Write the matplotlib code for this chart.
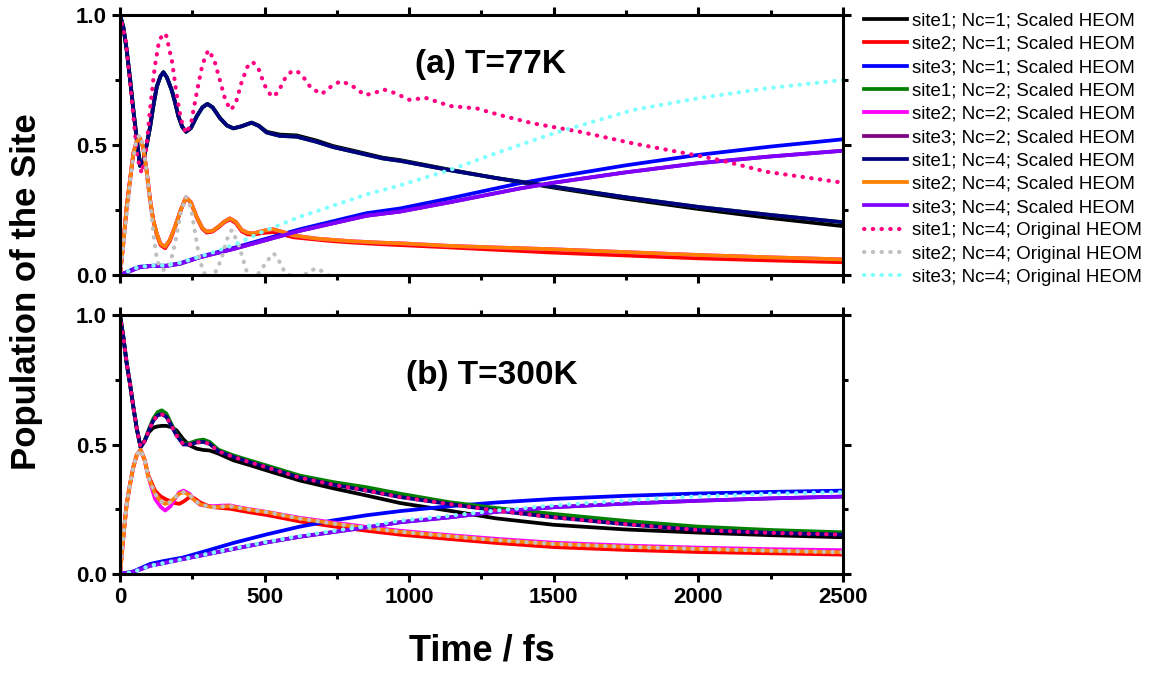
import matplotlib
matplotlib.use('Agg')
import matplotlib.pyplot as plt
from matplotlib.ticker import MultipleLocator

plt.rcParams['font.family'] = ['Liberation Sans', 'DejaVu Sans']

labels = ['site1; Nc=1; Scaled HEOM', 'site2; Nc=1; Scaled HEOM', 'site3; Nc=1; Scaled HEOM',
          'site1; Nc=2; Scaled HEOM', 'site2; Nc=2; Scaled HEOM', 'site3; Nc=2; Scaled HEOM',
          'site1; Nc=4; Scaled HEOM', 'site2; Nc=4; Scaled HEOM', 'site3; Nc=4; Scaled HEOM',
          'site1; Nc=4; Original HEOM', 'site2; Nc=4; Original HEOM', 'site3; Nc=4; Original HEOM']
colors = ['#000000', '#ff0000', '#0000ff', '#008000', '#ff00ff', '#800080',
          '#000080', '#ff8000', '#8000ff', '#ff0080', '#c0c0c0', '#80ffff']

# ---------------- (a) T=77K ----------------
# site1, scaled
t_a_s1 = [0, 12, 23, 35, 46, 58, 69, 80, 92, 104, 115, 127, 140, 150, 162, 179, 190, 202, 215, 228,
          245, 265, 285, 302, 320, 346, 370, 392, 420, 455, 480, 507, 553, 611, 680, 737, 800, 910,
          969, 1141, 1300, 1500, 1750, 2000, 2250, 2500]
a_s1_nc1 = [1.0, 0.95, 0.865, 0.75, 0.635, 0.52, 0.42, 0.44, 0.50, 0.57, 0.65, 0.724, 0.765, 0.78,
            0.76, 0.71, 0.665, 0.61, 0.57, 0.551, 0.565, 0.61, 0.645, 0.658, 0.645, 0.603, 0.575,
            0.564, 0.572, 0.586, 0.575, 0.551, 0.54, 0.537, 0.517, 0.496, 0.48, 0.451, 0.442, 0.405,
            0.373, 0.336, 0.293, 0.254, 0.219, 0.188]
a_s1_nc4 = [1.0, 0.95, 0.865, 0.75, 0.635, 0.52, 0.42, 0.44, 0.50, 0.57, 0.65, 0.724, 0.765, 0.78,
            0.76, 0.71, 0.665, 0.61, 0.57, 0.551, 0.565, 0.61, 0.645, 0.658, 0.645, 0.603, 0.575,
            0.564, 0.572, 0.586, 0.573, 0.548, 0.535, 0.532, 0.512, 0.492, 0.476, 0.448, 0.439, 0.403,
            0.373, 0.34, 0.299, 0.262, 0.231, 0.203]

# site2, scaled
t_a_s2 = [0, 12, 23, 35, 46, 58, 69, 80, 92, 104, 115, 127, 140, 156, 172, 190, 210, 228, 245, 265,
          285, 300, 320, 340, 360, 380, 400, 421, 440, 461, 495, 530, 565, 600, 680, 737, 800, 910,
          969, 1141, 1300, 1500, 1750, 2000, 2250, 2500]
a_s2_nc1 = [0, 0.13, 0.263, 0.37, 0.468, 0.515, 0.526, 0.49, 0.40, 0.288, 0.21, 0.155, 0.115, 0.103,
            0.13, 0.183, 0.25, 0.297, 0.278, 0.222, 0.177, 0.163, 0.167, 0.183, 0.202, 0.214, 0.2,
            0.168, 0.157, 0.155, 0.162, 0.165, 0.155, 0.145, 0.136, 0.13, 0.125, 0.118, 0.115, 0.106,
            0.097, 0.086, 0.075, 0.064, 0.056, 0.049]
a_s2_nc4 = [0, 0.13, 0.263, 0.37, 0.468, 0.515, 0.526, 0.49, 0.40, 0.288, 0.21, 0.16, 0.12, 0.109,
            0.135, 0.186, 0.25, 0.299, 0.28, 0.224, 0.18, 0.167, 0.17, 0.186, 0.205, 0.218, 0.205,
            0.173, 0.163, 0.16, 0.17, 0.176, 0.165, 0.152, 0.14, 0.135, 0.13, 0.124, 0.122, 0.112,
            0.106, 0.099, 0.088, 0.077, 0.068, 0.06]

# site3, scaled
t_a_s3 = [0, 25, 50, 69, 115, 161, 207, 276, 392, 507, 622, 853, 969, 1141, 1383, 1500, 1750, 2000,
          2250, 2500]
a_s3_nc1 = [0, 0.012, 0.025, 0.032, 0.036, 0.036, 0.045, 0.07, 0.104, 0.14, 0.176, 0.238, 0.256,
            0.295, 0.353, 0.376, 0.422, 0.462, 0.494, 0.522]
a_s3_nc4 = [0, 0.01, 0.022, 0.03, 0.035, 0.035, 0.043, 0.068, 0.1, 0.135, 0.17, 0.228, 0.244, 0.28,
            0.333, 0.355, 0.395, 0.43, 0.456, 0.478]

# original HEOM, Nc=4
t_a_o1 = [0, 20, 40, 60, 75, 90, 105, 120, 135, 150, 160, 180, 195, 210, 228, 245, 265, 285, 305,
          325, 345, 365, 383, 400, 420, 440, 459, 480, 500, 524, 545, 570, 590, 611, 635, 660, 697,
          730, 763, 800, 847, 880, 911, 950, 1003, 1055, 1141, 1233, 1314, 1429, 1590, 1775, 1971,
          2075, 2236, 2500]
a_o1 = [1.0, 0.9, 0.68, 0.45, 0.391, 0.48, 0.65, 0.80, 0.9, 0.93, 0.92, 0.82, 0.70, 0.6, 0.545,
        0.58, 0.7, 0.81, 0.865, 0.83, 0.75, 0.67, 0.635, 0.66, 0.74, 0.80, 0.82, 0.79, 0.73, 0.686,
        0.70, 0.755, 0.78, 0.786, 0.76, 0.72, 0.696, 0.725, 0.746, 0.73, 0.692, 0.70, 0.714, 0.70,
        0.673, 0.682, 0.65, 0.641, 0.615, 0.583, 0.551, 0.506, 0.465, 0.442, 0.397, 0.355]
t_a_o2 = [0, 20, 40, 55, 67, 80, 95, 104, 115, 125, 133, 150, 170, 190, 210, 228, 245, 260, 275,
          288, 300, 320, 334, 350, 369, 386, 409, 426, 438, 455, 484, 505, 532, 552, 570, 600, 645,
          662, 680, 698, 715, 740]
a_o2 = [0, 0.2, 0.41, 0.51, 0.538, 0.5, 0.37, 0.288, 0.16, 0.08, 0.04, 0.02, 0.03, 0.12, 0.24, 0.3,
        0.26, 0.16, 0.06, 0.015, -0.01, -0.01, 0.02, 0.06, 0.135, 0.173, 0.12, 0.058, 0.013, -0.01,
        0.01, 0.05, 0.083, 0.05, 0.01, -0.01, 0.005, 0.018, 0.026, 0.015, 0.004, -0.02]
t_a_o3 = [0, 25, 50, 69, 115, 161, 207, 276, 392, 507, 622, 853, 969, 1141, 1314, 1500, 1775, 2000,
          2236, 2500]
a_o3 = [0, 0.012, 0.025, 0.032, 0.036, 0.037, 0.047, 0.07, 0.115, 0.173, 0.224, 0.31, 0.345, 0.404,
        0.474, 0.545, 0.635, 0.68, 0.718, 0.75]

# ---------------- (b) T=300K ----------------
t_b_s1 = [0, 12, 23, 35, 46, 58, 71, 85, 100, 115, 130, 144, 160, 175, 195, 219, 240, 265, 288, 310,
          340, 392, 450, 507, 622, 737, 853, 969, 1141, 1300, 1500, 1750, 2000, 2250, 2500]
b_s1_nc1 = [1.0, 0.91, 0.813, 0.73, 0.645, 0.56, 0.49, 0.515, 0.548, 0.565, 0.57, 0.572, 0.572,
            0.568, 0.555, 0.52, 0.497, 0.484, 0.479, 0.477, 0.465, 0.439, 0.42, 0.40, 0.361, 0.331,
            0.303, 0.274, 0.244, 0.215, 0.19, 0.172, 0.16, 0.15, 0.142]
b_s1_nc2 = [1.0, 0.91, 0.813, 0.73, 0.645, 0.56, 0.49, 0.515, 0.56, 0.60, 0.625, 0.632, 0.62, 0.585,
            0.54, 0.503, 0.505, 0.515, 0.519, 0.51, 0.48, 0.458, 0.438, 0.419, 0.38, 0.355, 0.335,
            0.31, 0.277, 0.255, 0.232, 0.205, 0.183, 0.17, 0.161]
b_s1_nc4 = [1.0, 0.91, 0.813, 0.73, 0.645, 0.56, 0.49, 0.513, 0.555, 0.592, 0.613, 0.617, 0.607,
            0.578, 0.536, 0.5, 0.5, 0.508, 0.51, 0.502, 0.474, 0.452, 0.431, 0.412, 0.372, 0.345,
            0.322, 0.297, 0.27, 0.245, 0.219, 0.192, 0.17, 0.159, 0.152]

t_b_s2 = [0, 12, 23, 35, 46, 58, 71, 85, 98, 121, 140, 156, 175, 190, 205, 220, 240, 258, 276, 300,
          323, 350, 380, 410, 450, 507, 622, 737, 853, 969, 1141, 1300, 1500, 1750, 2000, 2250, 2500]
b_s2_nc1 = [0, 0.15, 0.271, 0.35, 0.413, 0.46, 0.48, 0.44, 0.38, 0.322, 0.30, 0.29, 0.28, 0.274,
            0.271, 0.28, 0.297, 0.292, 0.277, 0.265, 0.258, 0.255, 0.252, 0.246, 0.238, 0.228, 0.203,
            0.184, 0.167, 0.152, 0.135, 0.12, 0.104, 0.093, 0.085, 0.08, 0.075]
b_s2_nc2 = [0, 0.15, 0.271, 0.35, 0.413, 0.46, 0.48, 0.44, 0.374, 0.29, 0.26, 0.245, 0.262, 0.29,
            0.315, 0.322, 0.31, 0.285, 0.268, 0.262, 0.262, 0.264, 0.265, 0.258, 0.25, 0.24, 0.217,
            0.199, 0.182, 0.167, 0.15, 0.136, 0.121, 0.11, 0.102, 0.096, 0.092]
b_s2_nc4 = [0, 0.15, 0.271, 0.35, 0.413, 0.46, 0.48, 0.44, 0.374, 0.31, 0.282, 0.271, 0.278, 0.295,
            0.31, 0.316, 0.305, 0.285, 0.27, 0.262, 0.258, 0.26, 0.262, 0.256, 0.248, 0.239, 0.214,
            0.195, 0.178, 0.163, 0.146, 0.131, 0.116, 0.105, 0.097, 0.09, 0.084]

t_b_s3 = [0, 46, 104, 150, 219, 300, 392, 507, 622, 737, 853, 969, 1141, 1300, 1500, 1750, 2000,
          2250, 2500]
b_s3_nc1 = [0, 0.01, 0.039, 0.05, 0.064, 0.09, 0.12, 0.153, 0.183, 0.207, 0.227, 0.243, 0.262,
            0.276, 0.29, 0.302, 0.311, 0.317, 0.322]
b_s3_nc4 = [0, 0.008, 0.032, 0.042, 0.058, 0.076, 0.097, 0.122, 0.144, 0.162, 0.18, 0.2, 0.219,
            0.24, 0.258, 0.272, 0.283, 0.292, 0.299]
b_o3 = [0, 0.008, 0.032, 0.042, 0.058, 0.077, 0.099, 0.124, 0.147, 0.166, 0.185, 0.206, 0.225,
        0.245, 0.265, 0.284, 0.3, 0.31, 0.316]

# (time, values) for each legend entry, in legend order
series_a = [(t_a_s1, a_s1_nc1), (t_a_s2, a_s2_nc1), (t_a_s3, a_s3_nc1),
            (t_a_s1, a_s1_nc4), (t_a_s2, a_s2_nc4), (t_a_s3, a_s3_nc4),
            (t_a_s1, a_s1_nc4), (t_a_s2, a_s2_nc4), (t_a_s3, a_s3_nc4),
            (t_a_o1, a_o1), (t_a_o2, a_o2), (t_a_o3, a_o3)]
series_b = [(t_b_s1, b_s1_nc1), (t_b_s2, b_s2_nc1), (t_b_s3, b_s3_nc1),
            (t_b_s1, b_s1_nc2), (t_b_s2, b_s2_nc2), (t_b_s3, b_s3_nc4),
            (t_b_s1, b_s1_nc4), (t_b_s2, b_s2_nc4), (t_b_s3, b_s3_nc4),
            (t_b_s1, b_s1_nc4), (t_b_s2, b_s2_nc4), (t_b_s3, b_o3)]


def drawPanel(ax, series, title, titlePos):
    for i, (t, v) in enumerate(series):
        if i < 9:
            ax.plot(t, v, color=colors[i], lw=2.7, label=labels[i])
        else:
            ax.plot(t, v, color=colors[i], lw=3.0, linestyle=(0, (0.1, 2.0)),
                    dash_capstyle='round', label=labels[i])
    ax.set_xlim(0, 2500)
    ax.set_ylim(0, 1.0)
    ax.xaxis.set_major_locator(MultipleLocator(500))
    ax.xaxis.set_minor_locator(MultipleLocator(250))
    ax.yaxis.set_major_locator(MultipleLocator(0.5))
    ax.yaxis.set_minor_locator(MultipleLocator(0.25))
    ax.tick_params(which='both', direction='out', top=True, right=True, width=2.2)
    ax.tick_params(which='major', length=6)
    ax.tick_params(which='minor', length=3.5)
    ax.tick_params(labelsize=16)
    for lab in ax.get_yticklabels() + ax.get_xticklabels():
        lab.set_fontweight('bold')
    ax.yaxis.set_major_formatter(plt.FuncFormatter(lambda y, p: '%.1f' % y))
    for sp in ax.spines.values():
        sp.set_linewidth(2.2)
    ax.text(titlePos[0], titlePos[1], title, transform=ax.transAxes, fontsize=24,
            fontweight='bold', ha='center', va='center')


fig = plt.figure(figsize=(11.51, 6.77), dpi=100)
ax1 = fig.add_axes([0.1043, 0.5938, 0.628, 0.384])
ax2 = fig.add_axes([0.1043, 0.1521, 0.628, 0.3826])

drawPanel(ax1, series_a, '(a) T=77K', (0.513, 0.81))
drawPanel(ax2, series_b, '(b) T=300K', (0.515, 0.768))
ax1.tick_params(labelbottom=False)

fig.text(0.0226, 0.569, 'Population of the Site', rotation=90, fontsize=25,
         fontweight='bold', ha='center', va='center')
fig.text(0.4183, 0.0384, 'Time / fs', fontsize=26, fontweight='bold', ha='center', va='center')

leg = ax1.legend(loc='upper left', bbox_to_anchor=(1.029, 1.01), frameon=False, fontsize=13.5,
                 handlelength=2.3, handletextpad=0.25, labelspacing=0.33, borderpad=0,
                 borderaxespad=0)

fig.savefig('out.png', dpi=100)
